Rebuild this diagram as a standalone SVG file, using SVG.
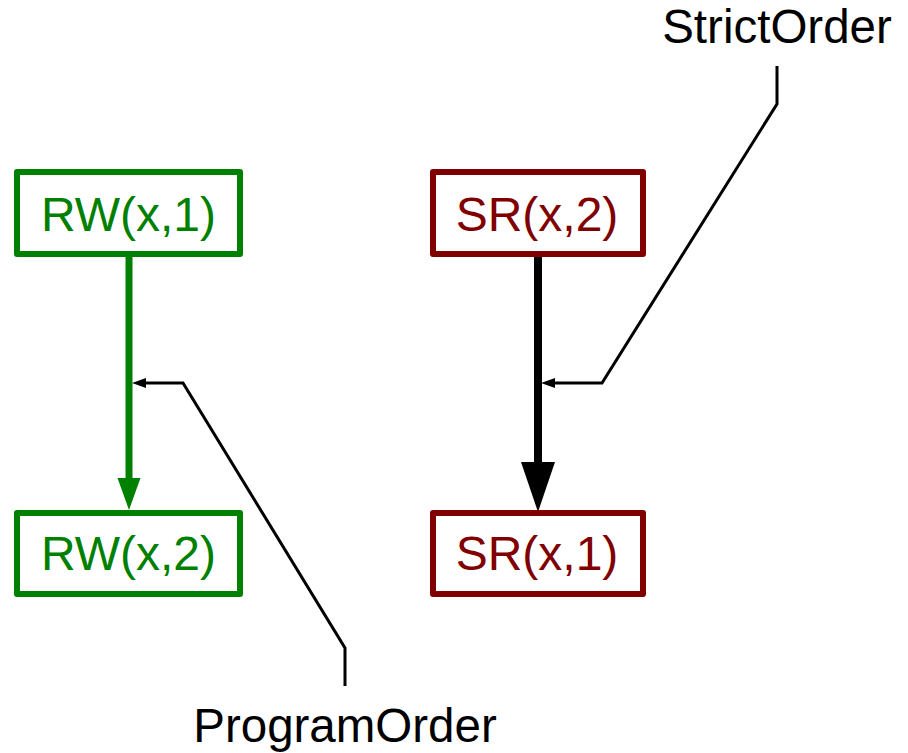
<svg xmlns="http://www.w3.org/2000/svg" width="908" height="753" viewBox="0 0 908 753">
<style>
text{font-family:"Liberation Sans",Arial,sans-serif;font-size:48px;text-anchor:middle}
.g rect{fill:#fff;stroke:#008000;stroke-width:6;stroke-linejoin:round}
.g text{fill:#008000}
.r rect{fill:#fff;stroke:#800000;stroke-width:6;stroke-linejoin:round}
.r text{fill:#800000}
.call{fill:none;stroke:#000;stroke-width:3}
</style>
<rect width="908" height="753" fill="#fff"/>
<g id="connectors">
<line x1="129" y1="257" x2="129" y2="480" stroke="#008000" stroke-width="7"/>
<polygon points="117.5,478 140.5,478 129,510" fill="#008000"/>
<line x1="538" y1="254" x2="538" y2="464" stroke="#000" stroke-width="8"/>
<polygon points="521,462 555,462 538,512" fill="#000"/>
<polyline class="call" points="345,686 345,648 183,383 145,383"/>
<polygon points="132,383 146,378 146,388" fill="#000"/>
<polyline class="call" points="777,66 777,104 602,383 553,383"/>
<polygon points="541,383 555,378 555,388" fill="#000"/>
</g>
<g id="rw1" class="g"><rect x="17" y="172" width="223" height="82"/><text x="128.5" y="231">RW(x,1)</text></g>
<g id="rw2" class="g"><rect x="17" y="513" width="223" height="81"/><text x="128.5" y="570">RW(x,2)</text></g>
<g id="sr2" class="r"><rect x="433" y="172" width="210" height="82"/><text x="537" y="231">SR(x,2)</text></g>
<g id="sr1" class="r"><rect x="433" y="513" width="210" height="81"/><text x="537" y="570">SR(x,1)</text></g>
<g id="label-program"><text x="345" y="742" style="font-size:47.5px">ProgramOrder</text></g>
<g id="label-strict"><text x="777" y="43" style="font-size:47.5px">StrictOrder</text></g>
</svg>
